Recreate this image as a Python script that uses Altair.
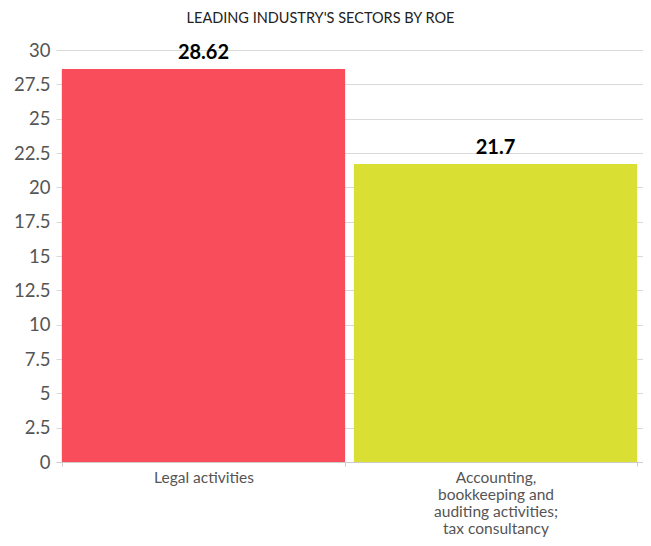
import altair as alt
import pandas as pd

categories = ["Legal activities", "Accounting,|bookkeeping and|auditing activities;|tax consultancy"]
values = [28.62, 21.7]
colors = ["#fa4d5c", "#d9e033"]
y_ticks = [0, 2.5, 5, 7.5, 10, 12.5, 15, 17.5, 20, 22.5, 25, 27.5, 30]

df = pd.DataFrame({"sector": categories, "roe": values, "color": colors})

FONT = "Lato"

base = alt.Chart(df).encode(
    x=alt.X("sector:N", sort=categories, title=None,
            scale=alt.Scale(paddingInner=0.03, paddingOuter=0.02),
            axis=alt.Axis(labelExpr="split(datum.label, '|')", labelAngle=0,
                          labelFontSize=15.5, labelColor="#555555", labelFont=FONT,
                          labelLineHeight=17, labelPadding=4, labelBaseline="top",
                          domainColor="#cccccc", tickColor="#cccccc", tickSize=4,
                          tickBand="extent", grid=False)),
    y=alt.Y("roe:Q", title=None,
            scale=alt.Scale(domain=[0, 30]),
            axis=alt.Axis(values=y_ticks, format=".1~f",
                          labelFontSize=18.5, labelColor="#555555", labelFont=FONT,
                          gridColor="#d9d9d9", domain=False, ticks=False,
                          labelPadding=6)),
)

bars = base.mark_bar().encode(color=alt.Color("color:N", scale=None))
text = base.mark_text(dy=-16, fontSize=20, fontWeight="bold", color="#000000", font=FONT).encode(
    text=alt.Text("roe:Q"))

chart = (bars + text).properties(
    width=587, height=412,
    autosize=alt.AutoSizeParams(type="none"),
    padding={"left": 48, "top": 42, "right": 0, "bottom": 76},
    title=alt.TitleParams("LEADING INDUSTRY'S SECTORS BY ROE", fontSize=14.5, font=FONT,
                          fontWeight="normal", color="#222222", offset=15, anchor="middle",
                          dx=-29),
).configure_view(stroke=None)

chart.save("out.html", embed_options={"renderer": "svg", "actions": False})
